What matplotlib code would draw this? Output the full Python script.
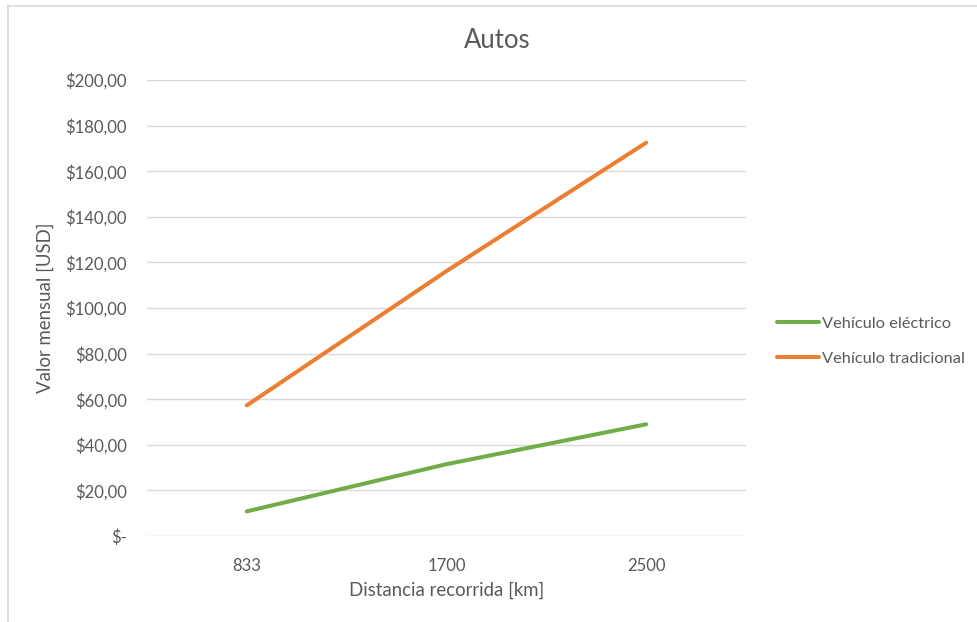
import matplotlib
matplotlib.use("Agg")
import matplotlib.pyplot as plt
from matplotlib.lines import Line2D

distances = ["833", "1700", "2500"]
electrico = [10.8, 31.5, 49.0]
tradicional = [57.3, 116.2, 172.5]
y_ticks = [0, 20, 40, 60, 80, 100, 120, 140, 160, 180, 200]
y_tick_labels = ["$-", "$20,00", "$40,00", "$60,00", "$80,00", "$100,00",
                 "$120,00", "$140,00", "$160,00", "$180,00", "$200,00"]

plt.rcParams["font.family"] = ["Lato", "DejaVu Sans"]
text_color = "#595959"
grid_color = "#d9d9d9"
green = "#70AD47"
orange = "#ED7D31"

W, H = 977, 622
fig = plt.figure(figsize=(W / 100, H / 100), dpi=100)
ax = fig.add_axes([147 / W, 86 / H, (746 - 147) / W, (536 - 80) / H])

x = range(len(distances))
ax.plot(x, electrico, color=green, lw=2.9, solid_capstyle="round",
        solid_joinstyle="round", label="Vehículo eléctrico")
ax.plot(x, tradicional, color=orange, lw=2.9, solid_capstyle="round",
        solid_joinstyle="round", label="Vehículo tradicional")

ax.set_xlim(-0.5, len(distances) - 0.5)
ax.set_ylim(0, 200)
ax.set_xticks(list(x))
ax.set_xticklabels(distances)
ax.set_yticks(y_ticks)
ax.set_yticklabels(y_tick_labels)
ax.tick_params(length=0, labelsize=12, colors=text_color)
ax.tick_params(axis="y", pad=14.5)
ax.tick_params(axis="x", pad=16)
for s in ax.spines.values():
    s.set_visible(False)
ax.grid(axis="y", color=grid_color, lw=1)
ax.set_axisbelow(True)

fig.text(497 / W, 1 - 40 / H, "Autos", fontsize=18.5, color=text_color,
         ha="center", va="center")
ax.set_xlabel("Distancia recorrida [km]", fontsize=13.4, color=text_color)
ax.set_ylabel("Valor mensual [USD]", fontsize=13.4, color=text_color)
ax.xaxis.set_label_coords(0.5, (536 - 590) / 456)
ax.xaxis.label.set_va("center")
ax.yaxis.set_label_coords((45 - 147) / 599, 0.5)
ax.yaxis.label.set_va("center")

handles = [Line2D([0], [0], color=green, lw=2.9, solid_capstyle="round"),
           Line2D([0], [0], color=orange, lw=2.9, solid_capstyle="round")]
leg = fig.legend(handles, ["Vehículo eléctrico", "Vehículo tradicional"],
                 loc="center left", bbox_to_anchor=(770 / W, 1 - 341 / H),
                 frameon=False, fontsize=11.8, handlelength=2.6,
                 handletextpad=0.15, labelspacing=1.25, borderaxespad=0)
for t in leg.get_texts():
    t.set_color(text_color)

# outer chart frame (left and top edges)
fig.add_artist(Line2D([7.5 / W, 7.5 / W], [0, 1 - 5.5 / H],
                      transform=fig.transFigure, color=grid_color, lw=1.2))
fig.add_artist(Line2D([7.5 / W, 1], [1 - 5.5 / H, 1 - 5.5 / H],
                      transform=fig.transFigure, color=grid_color, lw=1.2))

fig.savefig("out.png", dpi=100)
